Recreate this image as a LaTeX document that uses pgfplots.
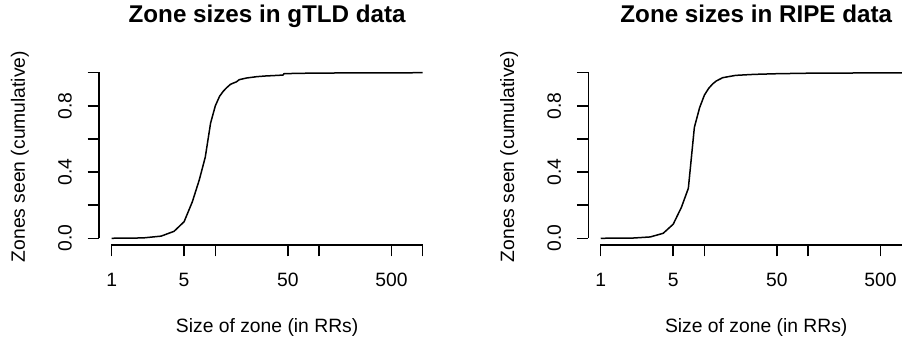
\documentclass[border=0pt]{standalone}
\usepackage{fontspec}
\setmainfont{Liberation Sans}
\usepackage{pgfplots}
\usepackage{pgfplotstable}
\pgfplotsset{compat=1.18}

\pgfplotstableread{
x y
1 0
2 0.002
3 0.013
4 0.042
5 0.10
6 0.22
7 0.352
8 0.49
9 0.695
10 0.80
11 0.858
12 0.89
13 0.912
14 0.93
15 0.938
16 0.945
17 0.958
20 0.968
25 0.976
30 0.980
40 0.984
45 0.986
46 0.994
60 0.996
100 0.998
1000 1.0
}\gtlddata

\pgfplotstableread{
x y
1 0
2 0.001
3 0.008
4 0.03
5 0.085
6 0.187
7 0.302
8 0.67
9 0.79
10 0.865
11 0.906
12 0.932
13 0.95
15 0.97
20 0.984
30 0.99
50 0.994
100 0.997
1000 1.0
}\ripedata

\begin{document}
\begin{tikzpicture}
\useasboundingbox (0pt,0pt) rectangle (902pt,339pt);
\clip (0pt,0pt) rectangle (902pt,339pt);
\begin{axis}[at={(99.2pt,94.1pt)}, anchor=south west,
    scale only axis, width=335.9pt, height=178.8pt, clip=false,
    xmode=log,
    xmin=0.758578, xmax=1318.26, ymin=-0.04, ymax=1.04,
    axis x line*=bottom, axis y line*=left,
    x axis line style={draw opacity=0},
    y axis line style={draw opacity=0},
    tick align=outside,
    major tick length=11.5pt,
    major tick style={draw=black, line width=1.5pt},
    minor tick num=0,
    xtick={1,5,10,50,100,500,1000},
    xticklabels={1,5,{},50,{},500,{}},
    ytick={0,0.2,0.4,0.6,0.8,1},
    yticklabels={0.0,{},0.4,{},0.8,{}},
    font=\fontsize{19.3pt}{23pt}\selectfont,
    xticklabel style={anchor=base, inner sep=0pt},
    xticklabel shift=30.3pt,
    yticklabel style={rotate=90, anchor=base, inner sep=0pt},
    yticklabel shift=16pt,
    title style={at={(axis description cs:0.5,1.2114)}, anchor=base, inner sep=0pt,
                 font=\bfseries\fontsize{24.2pt}{29pt}\selectfont},
    xlabel style={at={(axis description cs:0.5,-0.4927)}, anchor=base, inner sep=0pt},
    ylabel style={at={(axis description cs:-0.2209,0.494)}, anchor=base, inner sep=0pt},
    xlabel={Size of zone (in RRs)},
    ylabel={Zones seen (cumulative)},
    title={Zone sizes in gTLD data}]
\addplot[black, line width=1.5pt, line join=round] table[x=x, y=y] {\gtlddata};
\end{axis}
\path[draw=black, draw opacity=1, line width=1.5pt, line cap=rect] (111.6pt,94.1pt) -- (422.7pt,94.1pt);
\path[draw=black, draw opacity=1, line width=1.5pt, line cap=rect] (99.2pt,101.25pt) -- (99.2pt,265.75pt);
\begin{axis}[at={(588.3pt,94.1pt)}, anchor=south west,
    scale only axis, width=335.9pt, height=178.8pt, clip=false,
    xmode=log,
    xmin=0.758578, xmax=1318.26, ymin=-0.04, ymax=1.04,
    axis x line*=bottom, axis y line*=left,
    x axis line style={draw opacity=0},
    y axis line style={draw opacity=0},
    tick align=outside,
    major tick length=11.5pt,
    major tick style={draw=black, line width=1.5pt},
    minor tick num=0,
    xtick={1,5,10,50,100,500,1000},
    xticklabels={1,5,{},50,{},500,{}},
    ytick={0,0.2,0.4,0.6,0.8,1},
    yticklabels={0.0,{},0.4,{},0.8,{}},
    font=\fontsize{19.3pt}{23pt}\selectfont,
    xticklabel style={anchor=base, inner sep=0pt},
    xticklabel shift=30.3pt,
    yticklabel style={rotate=90, anchor=base, inner sep=0pt},
    yticklabel shift=16pt,
    title style={at={(axis description cs:0.5,1.2114)}, anchor=base, inner sep=0pt,
                 font=\bfseries\fontsize{24.2pt}{29pt}\selectfont},
    xlabel style={at={(axis description cs:0.5,-0.4927)}, anchor=base, inner sep=0pt},
    ylabel style={at={(axis description cs:-0.2209,0.494)}, anchor=base, inner sep=0pt},
    xlabel={Size of zone (in RRs)},
    ylabel={Zones seen (cumulative)},
    title={Zone sizes in RIPE data}]
\addplot[black, line width=1.5pt, line join=round] table[x=x, y=y] {\ripedata};
\end{axis}
\path[draw=black, draw opacity=1, line width=1.5pt, line cap=rect] (600.7pt,94.1pt) -- (911.8pt,94.1pt);
\path[draw=black, draw opacity=1, line width=1.5pt, line cap=rect] (588.3pt,101.25pt) -- (588.3pt,265.75pt);
\end{tikzpicture}
\end{document}
